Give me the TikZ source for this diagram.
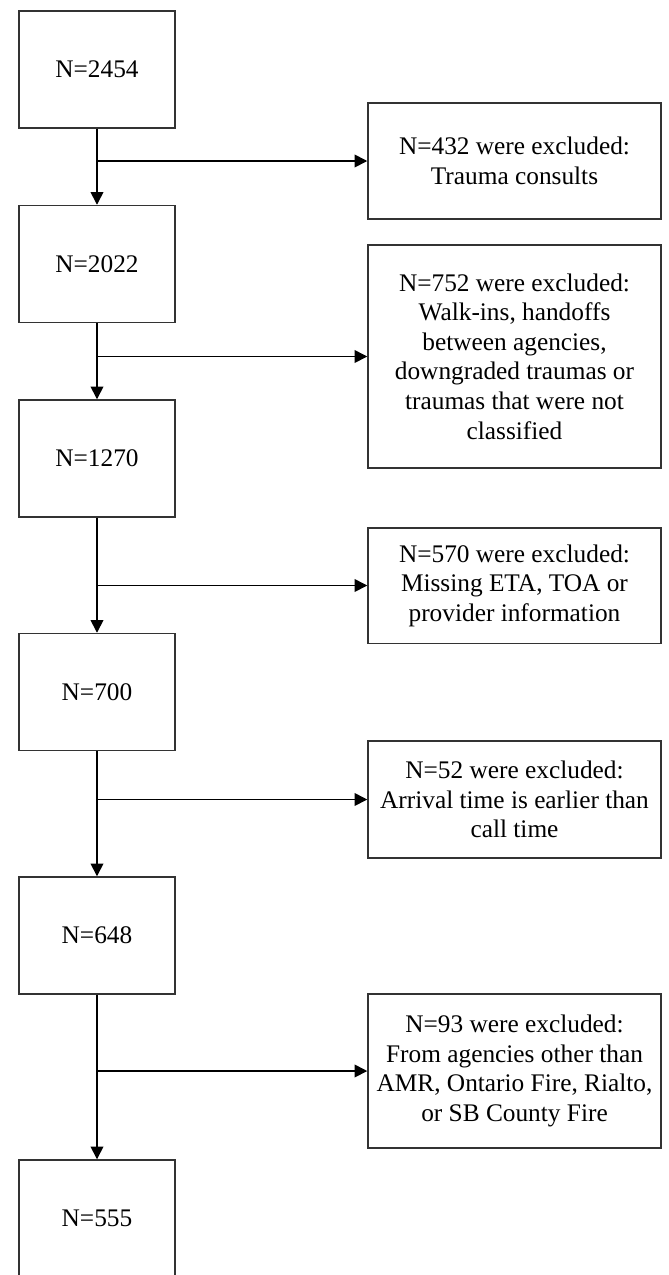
\documentclass[tikz,border=0pt]{standalone}
\usepackage{fontspec}
\setmainfont{Liberation Serif}
\usetikzlibrary{arrows.meta}
\tikzset{
	flownode/.style = {align=center, inner sep=0pt, text centered,
		font=\fontsize{19}{22.2}\selectfont, draw=black!80, line width=1.1pt,
		fill=white},
	flow_n/.style = {flownode, rectangle, minimum width=117pt,
		minimum height=87.75pt},% patients remaining
	flow_x/.style = {flownode, rectangle, minimum width=219.75pt},% excluded
	flow_a/.style = {line width=1.2pt, black}% connector
}

\begin{document}
\begin{tikzpicture}[x=0.75pt, y=-0.75pt, >={Triangle[length=9.5pt,width=9.5pt]}]
		\useasboundingbox (0,0) rectangle (668,1275);
		% main column
		\node [flow_n] (n2454) at (97,69.5) {N=2454};
		\node [flow_n] (n2022) at (97,264) {N=2022};
		\node [flow_n] (n1270) at (97,458.5) {N=1270};
		\node [flow_n] (n700) at (97,692) {N=700};
		\node [flow_n] (n648) at (97,935.5) {N=648};
		\node [flow_n] (n555) at (97,1218.5) {N=555};
		% exclusions
		\node [flow_x, minimum height=87pt] (x432) at (514.5,161)
			{N=432 were excluded:\\Trauma consults};
		\node [flow_x, minimum height=167.25pt] (x752) at (514.5,356.5)
			{N=752 were excluded:\\ Walk-ins, handoffs\\between agencies,\\downgraded traumas or\\traumas that were not\\classified};
		\node [flow_x, minimum height=86.6pt] (x570) at (514.5,585.5)
			{N=570 were excluded:\\Missing ETA, TOA or\\provider information};
		\node [flow_x, minimum height=87.75pt] (x52) at (514.5,799.5)
			{N=52 were excluded:\\Arrival time is earlier than\\call time};
		\node [flow_x, minimum height=115.5pt] (x93) at (514.5,1071)
			{N=93 were excluded:\\From agencies other than\\AMR, Ontario Fire, Rialto,\\or SB County Fire};
		% connectors
		\draw [flow_a, ->] (n2454) -- (n2022);
		\draw [flow_a, ->] (n2022) -- (n1270);
		\draw [flow_a, ->] (n1270) -- (n700);
		\draw [flow_a, ->] (n700) -- (n648);
		\draw [flow_a, ->] (n648) -- (n555);
		\draw [flow_a, ->] (n2454.south |- x432.west) -- (x432);
		\draw [flow_a, ->] (n2022.south |- x752.west) -- (x752);
		\draw [flow_a, ->] (n1270.south |- x570.west) -- (x570);
		\draw [flow_a, ->] (n700.south |- x52.west) -- (x52);
		\draw [flow_a, ->] (n648.south |- x93.west) -- (x93);
\end{tikzpicture}
\end{document}
